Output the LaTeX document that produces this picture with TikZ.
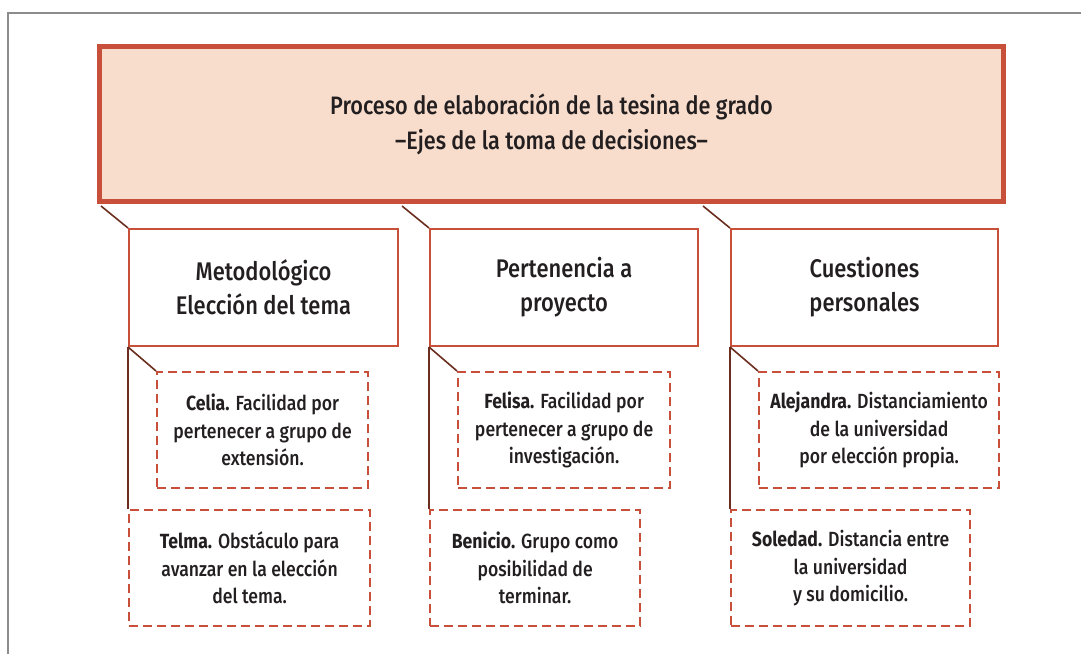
\documentclass[tikz,border=0pt]{standalone}
\usepackage{fontspec}
\setmainfont[FakeStretch=0.86, UprightFont={* Medium}, BoldFont={* Bold}]{Fira Sans}
\usetikzlibrary{positioning}
\definecolor{tesisred}{HTML}{C8503A}
\definecolor{tesispeach}{HTML}{F8DDCC}
\definecolor{linkbrown}{HTML}{6B2E1E}
\definecolor{inkdark}{HTML}{231F20}
\tikzset{
  header/.style = {
      draw=tesisred,
      line width=5pt,
      fill=tesispeach,
      text=inkdark,
      align=center,
      minimum width=904pt,
      minimum height=155pt,
      font=\fontsize{25.2}{35}\selectfont
  },
  axisbox/.style = {
      draw=tesisred,
      line width=2pt,
      fill=white,
      text=inkdark,
      align=center,
      minimum height=117pt,
      font=\fontsize{25.5}{34}\selectfont
  },
  casebox/.style = {
      draw=tesisred,
      line width=2.2pt,
      dash pattern=on 9pt off 5pt,
      text=inkdark,
      align=center,
      minimum height=116pt,
      font=\fontsize{20.5}{27.5}\selectfont
  },
  link/.style = {
      draw=linkbrown,
      line width=1.6pt
  }
}

\begin{document}
\begin{tikzpicture}[x=1pt, y=-1pt]
    \useasboundingbox (0,0) rectangle (1081,654);
    \draw[gray!90, line width=2pt] (8,654) |- (1081,13);
    % Header
    \node[header] (head) at (551.5,124)
        {Proceso de elaboración de la tesina de grado\\–Ejes de la toma de decisiones–};
    % Axes
    \node[axisbox, minimum width=269pt, anchor=north west] (met) at (128,228)
        {Metodológico\\Elección del tema};
    \node[axisbox, minimum width=268pt, right=30pt of met] (per)
        {Pertenencia a\\proyecto};
    \node[axisbox, minimum width=267pt, right=31pt of per] (cue)
        {Cuestiones\\personales};
    \coordinate[above left=22pt and 27pt of met.north west] (h1);
    \coordinate[above left=22pt and 27pt of per.north west] (h2);
    \coordinate[above left=22pt and 27pt of cue.north west] (h3);
    % Cases
    \node[casebox, minimum width=211pt, below right=24pt and 28pt of met.south west] (celia)
        {\textbf{Celia.} Facilidad por\\pertenecer a grupo de\\extensión.};
    \node[casebox, minimum width=241pt, below=162pt of met.south west, anchor=north west] (telma)
        {\textbf{Telma.} Obstáculo para\\avanzar en la elección\\del tema.};
    \node[casebox, minimum width=212pt, below right=24pt and 28pt of per.south west] (felisa)
        {\textbf{Felisa.} Facilidad por\\pertenecer a grupo de\\investigación.};
    \node[casebox, minimum width=210pt, below=162pt of per.south west, anchor=north west] (benicio)
        {\textbf{Benicio.} Grupo como\\posibilidad de\\terminar.};
    \node[casebox, minimum width=240pt, below right=24pt and 28pt of cue.south west] (aleja)
        {\textbf{Alejandra.} Distanciamiento\\de la universidad\\por elección propia.};
    \node[casebox, minimum width=239pt, below=162pt of cue.south west, anchor=north west] (soledad)
        {\textbf{Soledad.} Distancia entre\\la universidad\\y su domicilio.};
    % Links
    \draw[link] (h1) -- (met.north west);
    \draw[link] (h2) -- (per.north west);
    \draw[link] (h3) -- (cue.north west);
    \draw[link] (met.south west) -- (celia.north west);
    \draw[link] (met.south west) -- (telma.north west);
    \draw[link] (per.south west) -- (felisa.north west);
    \draw[link] (per.south west) -- (benicio.north west);
    \draw[link] (cue.south west) -- (aleja.north west);
    \draw[link] (cue.south west) -- (soledad.north west);
\end{tikzpicture}
\end{document}
